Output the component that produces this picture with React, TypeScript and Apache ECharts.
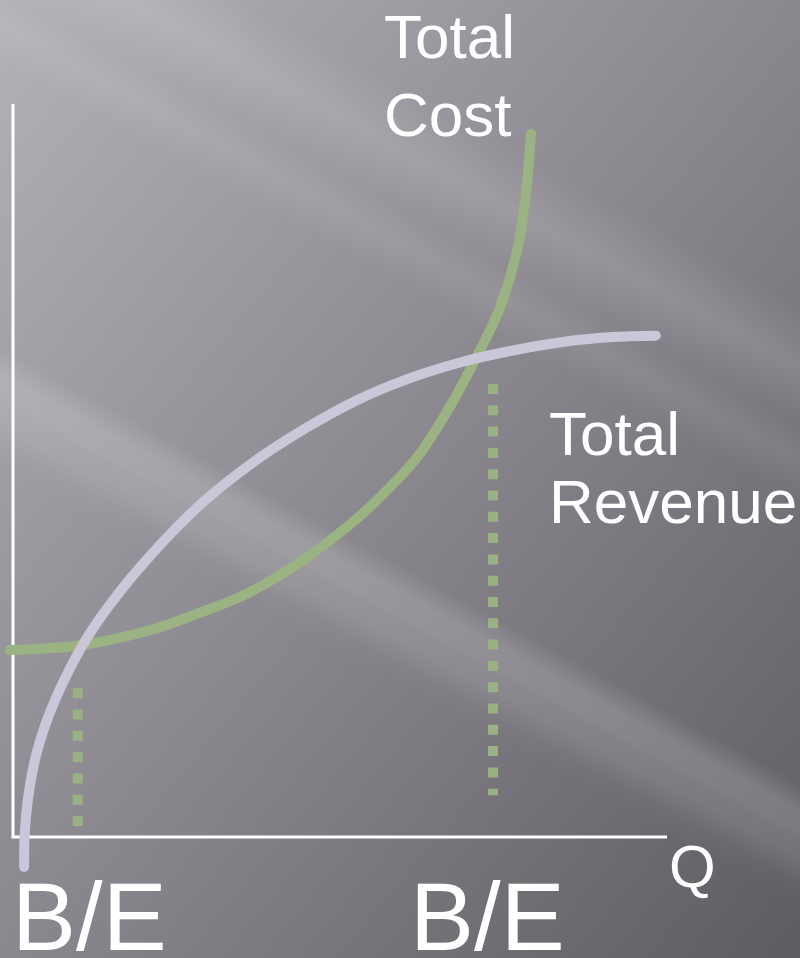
import React, { useEffect, useRef } from "react";
import * as echarts from "echarts";

// Quantity (x) and money (y) in chart units; axes run 0..10
const totalCost: [number, number][] = [
  [-0.05, 2.55], [1.06, 2.62], [2.09, 2.82], [2.86, 3.06], [3.62, 3.34],
  [4.39, 3.75], [5.15, 4.26], [5.66, 4.68], [6.18, 5.18], [6.68, 5.87],
  [7.14, 6.64], [7.45, 7.23], [7.71, 8.01], [7.84, 8.76], [7.92, 9.59],
];
const totalRevenue: [number, number][] = [
  [0.17, -0.41], [0.18, 0.05], [0.31, 0.95], [0.57, 1.71], [1.02, 2.55],
  [1.48, 3.17], [2.14, 3.88], [2.92, 4.58], [3.7, 5.13], [4.48, 5.58],
  [5.26, 5.96], [6.04, 6.25], [6.82, 6.47], [7.6, 6.63], [8.38, 6.75],
  [9.16, 6.82], [9.83, 6.84],
];
const breakEvenQ = [0.99, 7.34];
const breakEvenTop = [2.03, 6.18];
const breakEvenBottom = [0.12, 0.57];
const axisQMax = 10;
const axisVMax = 10;
const curveLabels = ["Total\nCost", "Total\nRevenue"];
const axisLabel = "Q";
const breakEvenLabel = "B/E";

const W = 800;
const H = 958;
const FONT = '"Liberation Sans", Arial, Helvetica, sans-serif';

export default function App() {
  const ref = useRef<HTMLDivElement>(null);
  useEffect(() => {
    if (!ref.current) return;
    const chart = echarts.init(ref.current, undefined, { renderer: "svg" });

    const streak = (cx: number, cy: number, h: number, a: number) => ({
      type: "rect",
      x: cx,
      y: cy,
      rotation: -0.5,
      silent: true,
      z: -50,
      shape: { x: -1000, y: -h / 2, width: 2000, height: h },
      style: {
        fill: new echarts.graphic.LinearGradient(0, 0, 0, 1, [
          { offset: 0, color: "rgba(255,255,255,0)" },
          { offset: 0.5, color: `rgba(255,255,255,${a})` },
          { offset: 1, color: "rgba(255,255,255,0)" },
        ]),
      },
    });

    const text = (t: string, x: number, y: number, size: number, lh: number) => ({
      type: "text",
      x,
      y,
      z: 100,
      silent: true,
      style: {
        text: t,
        fill: "#ffffff",
        font: `${size}px ${FONT}`,
        lineHeight: lh,
        textAlign: "left",
        textVerticalAlign: "middle",
        align: "left",
        verticalAlign: "middle",
      },
    });

    const [costTitle, costSub] = curveLabels[0].split("\n");
    const [revTitle, revSub] = curveLabels[1].split("\n");

    const beSeries = breakEvenQ.map((q, i) => ({
      type: "line",
      silent: true,
      symbol: "none",
      z: 3,
      data: [
        [q, breakEvenTop[i]],
        [q, breakEvenBottom[i]],
      ],
      lineStyle: { color: "#9ab283", width: 10, type: [10, 11.3], cap: "butt" },
    }));

    chart.setOption({
      animation: false,
      backgroundColor: new echarts.graphic.LinearGradient(0, 0, 1, 1, [
        { offset: 0, color: "#b4b1b9" },
        { offset: 0.5, color: "#8a888e" },
        { offset: 1, color: "#5e5c61" },
      ]),
      grid: { left: 0, right: 0, top: 0, bottom: 0 },
      xAxis: { type: "value", min: -0.1988, max: 12.034, show: false },
      yAxis: { type: "value", min: -1.651, max: 11.419, show: false },
      graphic: [
        streak(200, 40, 110, 0.12),
        streak(100, 430, 50, 0.1),
        streak(300, 560, 90, 0.11),
        streak(560, 330, 70, 0.08),
        streak(620, 760, 80, 0.06),
        text(costTitle, 384, 36, 62, 62),
        text(costSub, 384, 114, 62, 62),
        text(revTitle, 549, 433, 62, 62),
        text(revSub, 549, 501, 62, 62),
        text(axisLabel, 669, 866, 60, 60),
        text(breakEvenLabel, 12, 916, 96, 72),
        text(breakEvenLabel, 410, 916, 96, 72),
      ],
      series: [
        {
          type: "line",
          silent: true,
          symbol: "none",
          z: 2,
          data: [
            [0, axisVMax],
            [0, 0],
            [axisQMax, 0],
          ],
          lineStyle: { color: "#ffffff", width: 3, join: "miter" },
        },
        ...beSeries,
        {
          name: "Total Cost",
          type: "line",
          silent: true,
          symbol: "none",
          smooth: 0.35,
          z: 4,
          data: totalCost,
          lineStyle: { color: "#9bb382", width: 10, cap: "round" },
        },
        {
          name: "Total Revenue",
          type: "line",
          silent: true,
          symbol: "none",
          smooth: 0.35,
          z: 5,
          data: totalRevenue,
          lineStyle: { color: "#cbc6d8", width: 10, cap: "round" },
        },
      ],
    });
    return () => chart.dispose();
  }, []);
  return (
    <div
      ref={ref}
      style={{ position: "absolute", left: 0, top: 0, width: W, height: H }}
    />
  );
}
